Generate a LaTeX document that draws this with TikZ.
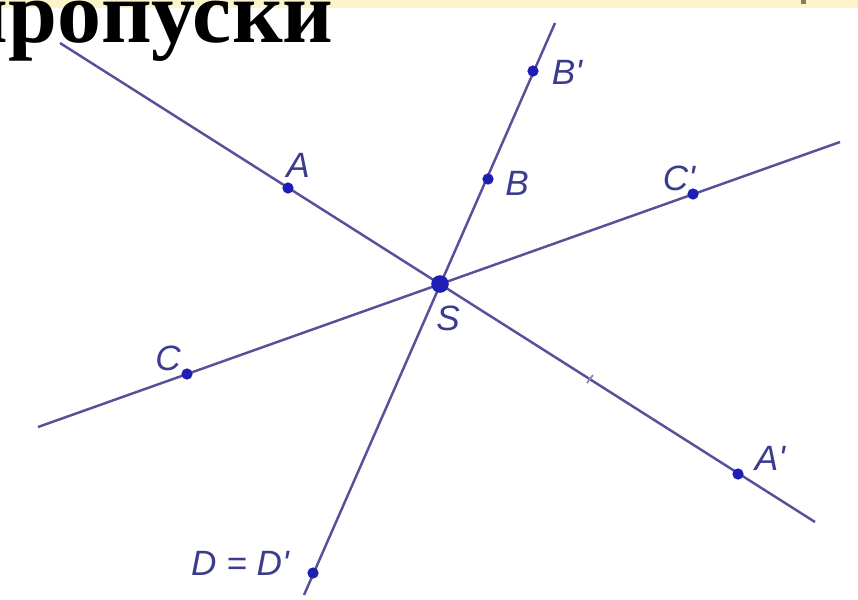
\documentclass[tikz,border=0pt]{standalone}
\usepackage{fontspec}
\setmainfont{Liberation Serif}
\setsansfont{Liberation Sans}
\usetikzlibrary{calc}
\definecolor{linecol}{RGB}{88,80,155}
\definecolor{dotcol}{RGB}{30,30,180}
\definecolor{labcol}{RGB}{60,60,140}
\definecolor{bandcol}{RGB}{252,244,200}
\definecolor{olive}{RGB}{140,125,70}
\tikzset{
  pt/.style={circle,fill=dotcol,inner sep=0pt,minimum size=3.2pt},
  lbl/.style={text=labcol,font=\fontsize{10}{12}\sffamily\itshape,inner sep=0pt},
  ray/.style={linecol,line width=0.7pt}
}
\begin{document}
\begin{tikzpicture}[x=0.01cm,y=-0.01cm]
  \useasboundingbox (0,0) rectangle (858,599);
  \clip (0,0) rectangle (858,599);
  \fill[white] (0,0) rectangle (858,599);
  \fill[bandcol] (0,0) rectangle (858,8);
  \fill[olive] (801,0) rectangle (806,4);
  \node[anchor=base east,inner sep=0pt,font=\fontsize{25}{30}\selectfont\bfseries]
    (title) at (334,42) {пропуски};

  % line ends
  \coordinate (a1) at (60,43);
  \coordinate (a2) at (815,522);
  \coordinate (b1) at (555,23);
  \coordinate (b2) at (304,595);
  \coordinate (c1) at (38,427);
  \coordinate (c2) at (840,142);
  \draw[ray] (a1) -- (a2);
  \draw[ray] (b1) -- (b2);
  \draw[ray] (c1) -- (c2);

  % small mark on SA'
  \coordinate (m1) at (587,383);
  \coordinate (m2) at (593,375);
  \draw[linecol!70,line width=0.5pt] (m1) -- (m2);

  % points
  \node[pt,minimum size=5pt] (S) at (440,284) {};
  \node[pt] (A) at (288,188) {};
  \node[pt] (A') at (738,474) {};
  \node[pt] (B) at (488,179) {};
  \node[pt] (B') at (533,71) {};
  \node[pt] (C) at (187,374) {};
  \node[pt] (C') at (693,194) {};
  \node[pt] (D) at (313,573) {};

  % labels
  \node[lbl] (lS) at (448,318) {S};
  \node[lbl] (lA) at (298,165) {A};
  \node[lbl] (lA') at (770,458) {A\textquotesingle};
  \node[lbl] (lB) at (517,183) {B};
  \node[lbl] (lB') at (567,72) {B\textquotesingle};
  \node[lbl] (lC) at (168,358) {C};
  \node[lbl] (lC') at (679,178) {C\textquotesingle};
  \node[lbl] (lD) at (240,563) {D = D\textquotesingle};
\end{tikzpicture}
\end{document}
